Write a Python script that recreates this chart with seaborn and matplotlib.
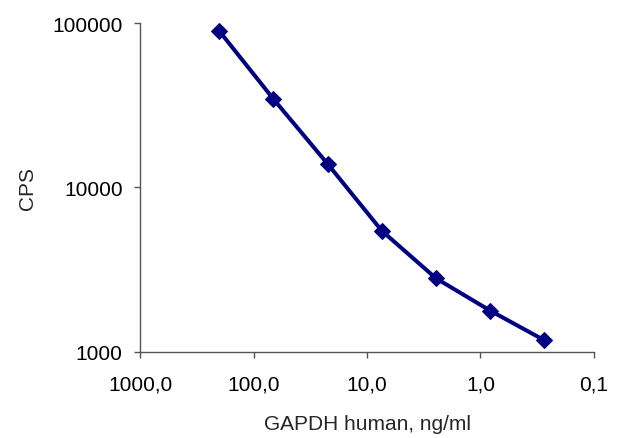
import matplotlib
matplotlib.use("Agg")
import matplotlib.pyplot as plt
import seaborn as sns
import pandas as pd

# GAPDH human standard curve (3-fold dilutions)
concentration = [200.0, 66.7, 22.2, 7.41, 2.47, 0.823, 0.274]
cps = [89500, 34500, 13900, 5450, 2800, 1780, 1175]
x_ticks = [1000, 100, 10, 1, 0.1]
x_tick_labels = ["1000,0", "100,0", "10,0", "1,0", "0,1"]
y_ticks = [1000, 10000, 100000]
y_tick_labels = ["1000", "10000", "100000"]

df = pd.DataFrame({"conc": concentration, "cps": cps})

sns.set_style("white")
plt.rcParams["font.family"] = ["Liberation Sans", "DejaVu Sans"]

fig = plt.figure(figsize=(6.19, 4.39), dpi=100)
ax = fig.add_axes([0.2262, 0.1965, 0.7334, 0.7484])

sns.lineplot(data=df, x="conc", y="cps", ax=ax, color="#000080",
             linewidth=2.9, marker="D", markersize=8.5,
             markeredgecolor="#000080", sort=False)

ax.set_xscale("log")
ax.set_yscale("log")
ax.set_xlim(1000, 0.1)
ax.set_ylim(1000, 100000)
ax.minorticks_off()
ax.set_xticks(x_ticks)
ax.set_xticklabels(x_tick_labels)
ax.set_yticks(y_ticks)
ax.set_yticklabels(y_tick_labels)

for side in ["top", "right"]:
    ax.spines[side].set_visible(False)
for side in ["left", "bottom"]:
    ax.spines[side].set_color("#555555")
    ax.spines[side].set_linewidth(1.0)

ax.tick_params(axis="both", which="major", direction="out", length=4.5,
               width=1.0, color="#555555", labelsize=15, labelcolor="black",
               left=True, bottom=True)
ax.tick_params(axis="x", pad=12)
ax.tick_params(axis="y", pad=8)

ax.set_xlabel("GAPDH human, ng/ml", fontsize=15, labelpad=15)
ax.set_ylabel("CPS", fontsize=15, labelpad=11)

fig.savefig("out.png", dpi=100)
